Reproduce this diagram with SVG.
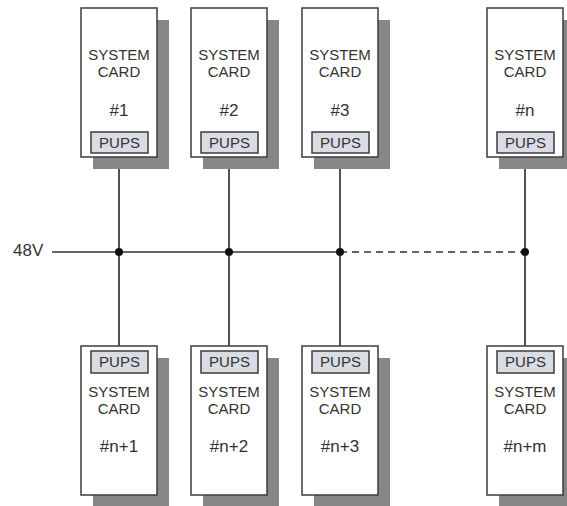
<svg xmlns="http://www.w3.org/2000/svg" width="567" height="506" viewBox="0 0 567 506">
  <style>
    .shadow { fill: #878787; }
    .card { fill: #ffffff; stroke: #3c3c3c; stroke-width: 1.5; }
    .pups { fill: #d9dce3; stroke: #3c3c3c; stroke-width: 1.5; }
    .lbl { font-family: "Liberation Sans", Arial, sans-serif; font-size: 15px; fill: #333333; text-anchor: middle; }
    .num { font-family: "Liberation Sans", Arial, sans-serif; font-size: 17px; fill: #333333; text-anchor: middle; }
    .wire { stroke: #333333; stroke-width: 1.7; fill: none; }
    .dash { stroke-dasharray: 7 5; }
    .dot { fill: #111111; }
  </style>
  <defs>
    <!-- card with the power supply at its lower edge (upper row) -->
    <g id="cardTop">
      <rect class="shadow" x="12" y="12" width="76" height="149"/>
      <rect class="card" x="0" y="0" width="76" height="149"/>
      <rect class="pups" x="10" y="124" width="57" height="21"/>
      <text class="lbl" x="38" y="52">SYSTEM</text>
      <text class="lbl" x="38" y="69">CARD</text>
      <text class="lbl" x="38.5" y="140">PUPS</text>
    </g>
    <!-- card with the power supply at its upper edge (lower row) -->
    <g id="cardBottom">
      <rect class="shadow" x="12" y="12" width="76" height="149"/>
      <rect class="card" x="0" y="0" width="76" height="149"/>
      <rect class="pups" x="10" y="5" width="57" height="22"/>
      <text class="lbl" x="38.5" y="21">PUPS</text>
      <text class="lbl" x="38" y="51">SYSTEM</text>
      <text class="lbl" x="38" y="68">CARD</text>
    </g>
  </defs>

  <rect width="567" height="506" fill="#ffffff"/>

  <!-- 48 V bus and card feeds -->
  <g id="connectors">
    <line class="wire" x1="52" y1="252" x2="340" y2="252"/>
    <line class="wire dash" x1="340" y1="252" x2="525" y2="252"/>
    <line class="wire" x1="119" y1="157" x2="119" y2="346"/>
    <line class="wire" x1="229" y1="157" x2="229" y2="346"/>
    <line class="wire" x1="340" y1="157" x2="340" y2="346"/>
    <line class="wire" x1="525" y1="157" x2="525" y2="346"/>
    <circle class="dot" cx="119" cy="252" r="4"/>
    <circle class="dot" cx="229" cy="252" r="4"/>
    <circle class="dot" cx="340" cy="252" r="4"/>
    <circle class="dot" cx="525" cy="252" r="4"/>
  </g>

  <g id="bus-label">
    <text class="num" x="13" y="256" style="text-anchor:start">48V</text>
  </g>

  <!-- upper row -->
  <g id="card-1" transform="translate(81,8)">
    <use href="#cardTop"/>
    <text class="num" x="38" y="108">#1</text>
  </g>
  <g id="card-2" transform="translate(191,8)">
    <use href="#cardTop"/>
    <text class="num" x="38" y="108">#2</text>
  </g>
  <g id="card-3" transform="translate(302,8)">
    <use href="#cardTop"/>
    <text class="num" x="38" y="108">#3</text>
  </g>
  <g id="card-n" transform="translate(487,8)">
    <use href="#cardTop"/>
    <text class="num" x="38" y="108">#n</text>
  </g>

  <!-- lower row -->
  <g id="card-n1" transform="translate(81,346)">
    <use href="#cardBottom"/>
    <text class="num" x="38" y="106">#n+1</text>
  </g>
  <g id="card-n2" transform="translate(191,346)">
    <use href="#cardBottom"/>
    <text class="num" x="38" y="106">#n+2</text>
  </g>
  <g id="card-n3" transform="translate(302,346)">
    <use href="#cardBottom"/>
    <text class="num" x="38" y="106">#n+3</text>
  </g>
  <g id="card-nm" transform="translate(487,346)">
    <use href="#cardBottom"/>
    <text class="num" x="38" y="106">#n+m</text>
  </g>
</svg>
